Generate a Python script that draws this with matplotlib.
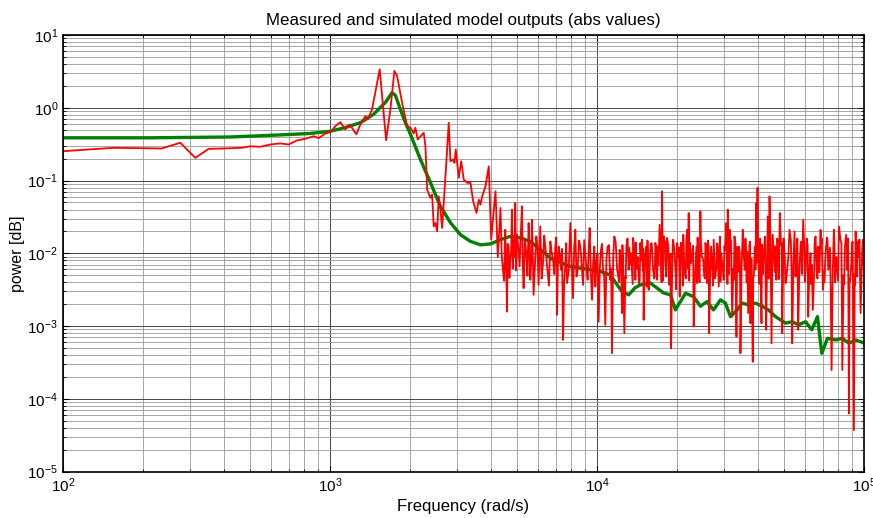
import matplotlib
matplotlib.use("Agg")
from matplotlib import pyplot as plt
from matplotlib.ticker import LogLocator, NullFormatter

plt.rcParams['font.family'] = ['Liberation Sans', 'DejaVu Sans']
plt.rcParams['mathtext.default'] = 'regular'

# measured output (red) - frequency in rad/s, power
meas_freq = [100, 154, 234, 275, 313, 351, 399, 468, 502, 548, 597, 651, 699, 752, 808, 868,
             907, 960, 1003, 1047, 1093, 1141, 1184, 1255, 1299, 1357, 1384, 1437, 1535, 1622,
             1683, 1742, 1783, 1862, 1944, 2001, 2058, 2088, 2130, 2244, 2277, 2311, 2377, 2412,
             2446, 2482, 2519, 2554, 2591, 2630, 2706, 2784, 2825, 2892, 2925, 2958, 3035, 3099,
             3169, 3264, 3358, 3437, 3537, 3608, 3661, 3715, 3821, 3932, 4015, 4106, 4167, 4250,
             4350, 4443, 4533, 4600, 4664, 4733, 4802, 4869, 4941, 5013, 5129, 5236, 5309, 5435,
             5543, 5625, 5708, 5787, 5923, 6042, 6131, 6276, 6402, 6530, 6687, 6844, 6981, 7085,
             7184, 7332, 7460, 7610, 7723, 7945, 8132, 8295, 8461, 8660, 8865, 9043, 9224, 9385,
             9579, 9770, 9940, 10140, 10350, 10530, 10740, 10960, 11210, 11380, 11610, 11890,
             12150, 12410, 12660, 12880, 13140, 13410, 13650, 13920, 14200, 14530, 14750, 14950,
             15300, 15610, 15840, 16220, 16540, 16790, 17170, 17530, 17770, 18040, 18300, 18720,
             18940, 19280, 19660, 19950, 20400, 20830, 21250, 21750, 22050, 22510, 23020, 23570,
             24040, 24390, 24970, 25470, 25840, 26290, 26750, 27360, 28010, 28570, 29160, 29830,
             30530, 30880, 31420, 32080, 32720, 33290, 33960, 34450, 35150, 35760, 36200, 36830,
             37550, 38310, 38990, 39460, 39910, 40360, 41310, 42140, 43020, 43620, 44270, 45040,
             45940, 46910, 47720, 48380, 49400, 50510, 51570, 52600, 53840, 54920, 55860, 56690,
             57830, 59190, 60380, 61800, 63070, 64330, 65850, 67410, 68760, 70140, 71790, 73480,
             75600, 77120, 78740, 80540, 82930, 84820, 86590, 87800, 89640, 91650, 93000, 95200,
             97100, 99000, 100800]
meas_power = [0.253, 0.282, 0.276, 0.331, 0.205, 0.273, 0.276, 0.282, 0.296, 0.291, 0.313, 0.324,
              0.313, 0.356, 0.375, 0.407, 0.383, 0.444, 0.462, 0.560, 0.635, 0.504, 0.591, 0.432,
              0.591, 0.769, 0.692, 0.951, 3.38, 0.359, 0.951, 3.21, 2.74, 1.175, 0.560, 0.532,
              0.444, 0.532, 0.367, 0.454, 0.296, 0.0752, 0.0578, 0.0642, 0.0235, 0.0261, 0.0200,
              0.0608, 0.0399, 0.0223, 0.1146, 0.624, 0.1846, 0.1946, 0.1753, 0.267, 0.109, 0.1846,
              0.103, 0.0930, 0.0930, 0.0519, 0.0359, 0.0547, 0.0467, 0.0608, 0.0834, 0.157, 0.0154,
              0.0399, 0.0713, 0.00889, 0.0421, 0.00594, 0.0211, 0.00158, 0.0124, 0.00816, 0.0399,
              0.0171, 0.0493, 0.0180, 0.00661, 0.0443, 0.00333, 0.0101, 0.0261, 0.00433, 0.0290,
              0.00269, 0.0171, 0.00369, 0.0235, 0.00734, 0.0124, 0.00563, 0.0146, 0.00816, 0.0124,
              0.00143, 0.0124, 0.00594, 0.000646, 0.00734, 0.00390, 0.0261, 0.00242, 0.0211,
              0.00594, 0.0124, 0.00369, 0.00957, 0.00433, 0.0223, 0.00230, 0.0124, 0.00734,
              0.00115, 0.0112, 0.00594, 0.00104, 0.0124, 0.00433, 0.000424, 0.0171, 0.00594,
              0.0112, 0.00151, 0.000798, 0.0124, 0.00594, 0.0101, 0.0163, 0.00433, 0.00889, 0.0139,
              0.0154, 0.00122, 0.0124, 0.00315, 0.0112, 0.00594, 0.0139, 0.00433, 0.0248, 0.0713,
              0.0171, 0.00734, 0.0163, 0.00594, 0.000496, 0.0154, 0.00594, 0.0139, 0.00255, 0.0107,
              0.00594, 0.0211, 0.0359, 0.00734, 0.000986, 0.0124, 0.00594, 0.0378, 0.00816, 0.0139,
              0.00390, 0.000798, 0.0124, 0.0154, 0.00661, 0.00350, 0.0101, 0.00433, 0.0261, 0.0399,
              0.0211, 0.00135, 0.0171, 0.000716, 0.0124, 0.000424, 0.0211, 0.00594, 0.00889,
              0.00151, 0.00110, 0.000324, 0.0124, 0.0493, 0.0793, 0.00594, 0.00110, 0.0101,
              0.000891, 0.0322, 0.0608, 0.000581, 0.0101, 0.00433, 0.0124, 0.0359, 0.000798,
              0.00889, 0.00594, 0.0211, 0.000581, 0.0200, 0.00816, 0.000891, 0.0124, 0.0290,
              0.00563, 0.00135, 0.0101, 0.00167, 0.0171, 0.0124, 0.0211, 0.00315, 0.0101, 0.00594,
              0.000249, 0.0211, 0.00889, 0.0235, 0.000249, 0.0124, 0.00594, 0.0000631, 0.00734,
              0.0000372, 0.0200, 0.00889, 0.00151, 0.0154, 0.00594]

# extra measured samples read between the ones above in the dense high-frequency band
meas_freq_fill = [4396, 4488, 4566, 4632, 4698, 4767, 4835, 4905, 4977, 5070, 5182, 5272, 5372,
                  5489, 5584, 5666, 5747, 5855, 5982, 6086, 6203, 6339, 6466, 6608, 6765, 6912,
                  7033, 7134, 7258, 7396, 7535, 7666, 7834, 8038, 8213, 8378, 8560, 8762, 8954,
                  9133, 9304, 9482, 9674, 9855, 10040, 10245, 10440, 10635, 10850, 11085, 11295,
                  11495, 11750, 12020, 12280, 12535, 12770, 13010, 13275, 13530, 13785, 14060,
                  14365, 14640, 14850, 15125, 15455, 15725, 16030, 16380, 16665, 16980, 17350,
                  17650, 17905, 18170, 18510, 18830, 19110, 19470, 19805, 20175, 20615, 21040,
                  21500, 21900, 22280, 22765, 23295, 23805, 24215, 24680, 25220, 25655, 26065,
                  26520, 27055, 27685, 28290, 28865, 29495, 30180, 30705, 31150, 31750, 32400,
                  33005, 33625, 34205, 34800, 35455, 35980, 36515, 37190, 37930, 38650, 39225,
                  39685, 40135, 40835, 41725, 42580, 43320, 43945, 44655, 45490, 46425, 47315,
                  48050, 48890, 49955, 51040, 52085, 53220, 54380, 55390, 56275, 57260, 58510,
                  59785, 61090, 62435, 63700, 65090, 66630, 68085, 69450, 70965, 72635, 74540,
                  76360, 77930, 79640, 81735, 83875, 85705, 87195, 88720, 90645, 92325, 94100,
                  96150, 98050, 99900]
meas_power_fill = [0.0095, 0.0042, 0.0078, 0.0135, 0.0046, 0.0105, 0.0062, 0.0088, 0.0058,
                   0.0125, 0.0185, 0.0071, 0.0155, 0.0049, 0.0112, 0.0075, 0.0098, 0.0066,
                   0.0128, 0.0092, 0.0045, 0.0175, 0.0082, 0.0036, 0.0102, 0.0052, 0.0165,
                   0.0064, 0.0095, 0.0115, 0.0041, 0.0138, 0.0058, 0.0072, 0.0118, 0.0048,
                   0.0150, 0.0068, 0.0152, 0.0061, 0.0108, 0.0052, 0.0074, 0.0035, 0.0098,
                   0.0063, 0.0135, 0.0049, 0.0085, 0.0130, 0.0062, 0.0088, 0.0142, 0.0048,
                   0.0092, 0.0060, 0.0048, 0.0160, 0.0071, 0.0052, 0.0125, 0.0062, 0.0038,
                   0.0080, 0.0058, 0.0092, 0.0150, 0.0052, 0.0138, 0.0045, 0.0115, 0.0068,
                   0.0095, 0.0042, 0.0135, 0.0048, 0.0122, 0.0098, 0.0050, 0.0115, 0.0032,
                   0.0088, 0.0140, 0.0180, 0.0045, 0.0062, 0.0140, 0.0105, 0.0052, 0.0165,
                   0.0040, 0.0092, 0.0048, 0.0120, 0.0150, 0.0046, 0.0058, 0.0045, 0.0130,
                   0.0170, 0.0068, 0.0110, 0.0075, 0.0052, 0.0150, 0.0062, 0.0135, 0.0055,
                   0.0105, 0.0068, 0.0095, 0.0160, 0.0105, 0.0125, 0.0085, 0.0048, 0.0060,
                   0.0075, 0.0105, 0.0160, 0.0052, 0.0170, 0.0062, 0.0045, 0.0135, 0.0180,
                   0.0055, 0.0160, 0.0070, 0.0130, 0.0160, 0.0040, 0.0090, 0.0150, 0.0072,
                   0.0048, 0.0160, 0.0058, 0.0052, 0.0115, 0.0160, 0.0058, 0.0070, 0.0058,
                   0.0048, 0.0055, 0.0160, 0.0058, 0.0165, 0.0120, 0.0055, 0.0040, 0.0052,
                   0.0150, 0.0050, 0.0180, 0.0160, 0.0042, 0.0145, 0.0052, 0.0048, 0.0155,
                   0.0058, 0.0062]

# more samples in the solid band above 1.2e4 rad/s
meas_freq_band = [12100, 12450, 12800, 13200, 13600, 14000, 14450, 14900, 15400, 15900, 16450,
                  16900, 17450, 18000, 18600, 19200, 19750, 20300, 20950, 21600, 22150, 22900,
                  23700, 24500, 25350, 26200, 27200, 28150, 29000, 30000, 30800, 31600, 32550,
                  33500, 34350, 35300, 36350, 37400, 38450, 39550, 40600, 41500, 42800, 44100,
                  45300, 46600, 47900, 49200, 50800, 52300, 53600, 55100, 56500, 58200, 60000,
                  61500, 63300, 65300, 67000, 69000, 71000, 73000, 75000, 77500, 79900, 82300,
                  84300, 86200, 88300, 90200, 92700, 94700, 96700, 98500]
meas_power_band = [0.0040, 0.0130, 0.0045, 0.0120, 0.0038, 0.0140, 0.0042, 0.0115, 0.0035,
                   0.0135, 0.0048, 0.0125, 0.0040, 0.0145, 0.0037, 0.0130, 0.0044, 0.0120,
                   0.0036, 0.0150, 0.0042, 0.0128, 0.0039, 0.0140, 0.0045, 0.0118, 0.0036,
                   0.0138, 0.0041, 0.0125, 0.0038, 0.0150, 0.0043, 0.0122, 0.0037, 0.0135,
                   0.0040, 0.0145, 0.0046, 0.0120, 0.0038, 0.0132, 0.0042, 0.0148, 0.0036,
                   0.0125, 0.0044, 0.0140, 0.0039, 0.0130, 0.0043, 0.0118, 0.0037, 0.0145,
                   0.0041, 0.0128, 0.0038, 0.0136, 0.0045, 0.0122, 0.0040, 0.0150, 0.0036,
                   0.0130, 0.0042, 0.0140, 0.0038, 0.0125, 0.0044, 0.0135, 0.0037, 0.0145,
                   0.0041, 0.0120]

# simulated model output (green)
sim_freq = [100, 212, 423, 651, 844, 1003, 1141, 1299, 1454, 1612, 1708, 1758, 1835, 1916, 2001,
            2181, 2377, 2591, 2825, 3081, 3358, 3661, 3990, 4350, 4733, 5170, 5625, 6131, 6687,
            7306, 7945, 8660, 9469, 10290, 11210, 12020, 12410, 13140, 13870, 14530, 15840,
            16790, 17740, 18850, 19660, 20530, 21440, 22980, 24390, 25840, 27300, 29000, 30280,
            31610, 33490, 34980, 36930, 39230, 41550, 43870, 46610, 50820, 53830, 56850, 60380,
            63730, 66950, 69480, 72990, 78420, 82930, 87790, 93000, 100800]
sim_power = [0.387, 0.387, 0.397, 0.424, 0.444, 0.477, 0.536, 0.624, 0.811, 1.186, 1.614, 1.48,
             0.951, 0.624, 0.432, 0.195, 0.0939, 0.0443, 0.0264, 0.0180, 0.0146, 0.0131, 0.0135,
             0.0154, 0.0171, 0.0163, 0.0146, 0.0112, 0.00861, 0.00750, 0.00661, 0.00628, 0.00594,
             0.00563, 0.00507, 0.00350, 0.00299, 0.00269, 0.00336, 0.00369, 0.00390, 0.00333,
             0.00286, 0.00269, 0.00167, 0.00217, 0.00283, 0.00255, 0.00188, 0.00217, 0.00167,
             0.00230, 0.00207, 0.00135, 0.00167, 0.00207, 0.00196, 0.00207, 0.00188, 0.00167,
             0.00135, 0.00110, 0.00115, 0.00104, 0.00115, 0.000891, 0.00135, 0.000424, 0.000681,
             0.000646, 0.000681, 0.000581, 0.000646, 0.000581]

# merge all measured samples in frequency order
meas = sorted(zip(meas_freq + meas_freq_fill + meas_freq_band,
                  meas_power + meas_power_fill + meas_power_band))
meas_f = [p[0] for p in meas]
meas_p = [p[1] for p in meas]

fig = plt.figure(figsize=(8.73, 5.18), dpi=100)
ax = fig.add_axes([0.0722, 0.0894, 0.9175, 0.843])

ax.loglog(sim_freq, sim_power, color='#008000', linewidth=2.4)
ax.loglog(meas_f, meas_p, color='red', linewidth=1.3)

ax.set_xlim(1e2, 1e5)
ax.set_ylim(1e-5, 1e1)
ax.xaxis.set_major_locator(LogLocator(base=10, numticks=10))
ax.yaxis.set_major_locator(LogLocator(base=10, numticks=10))
ax.xaxis.set_minor_locator(LogLocator(base=10, subs=range(2, 10), numticks=20))
ax.yaxis.set_minor_locator(LogLocator(base=10, subs=range(2, 10), numticks=20))
ax.xaxis.set_minor_formatter(NullFormatter())
ax.yaxis.set_minor_formatter(NullFormatter())

ax.grid(True, which='major', color='#444444', linewidth=0.7)
ax.grid(True, which='minor', color='#999999', linewidth=0.6)
ax.set_axisbelow(True)
ax.tick_params(which='both', direction='in', top=True, right=True, labelsize=11)
ax.tick_params(which='major', length=4)
ax.tick_params(which='minor', length=2)
for s in ax.spines.values():
    s.set_linewidth(1.2)

ax.set_title('Measured and simulated model outputs (abs values)', fontsize=12.2, pad=7)
ax.set_xlabel('Frequency (rad/s)', fontsize=12, labelpad=3)
ax.set_ylabel('power [dB]', fontsize=11.5, labelpad=2)

fig.savefig('out.png', dpi=100)
